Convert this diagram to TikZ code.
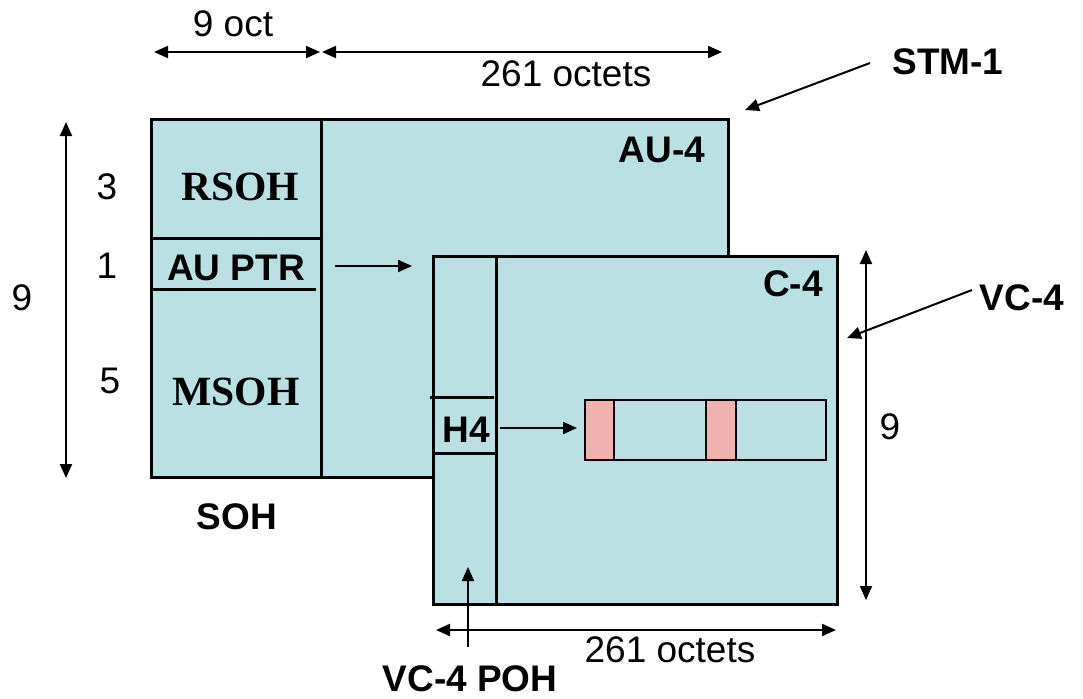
\documentclass[tikz,border=0pt]{standalone}
\usepackage{fontspec}
\setmainfont{Liberation Sans}
\newfontfamily\timesfont{Liberation Serif}
\usetikzlibrary{arrows.meta}

\definecolor{FrameCyan}{RGB}{186,224,227}
\definecolor{SlotPink}{RGB}{240,178,174}

\begin{document}
\begin{tikzpicture}[x=0.5pt, y=-0.5pt, >={Triangle[length=7pt,width=6pt]},
  lbl/.style={inner sep=0pt, font=\fontsize{18.5}{22}\selectfont},
  blbl/.style={inner sep=0pt, font=\fontsize{18.5}{22}\selectfont\bfseries},
  slbl/.style={inner sep=0pt, font=\fontsize{20.8}{24}\selectfont\timesfont\bfseries},
  frame/.style={draw, line width=1.5pt, fill=FrameCyan},
  dim/.style={<->, line width=1pt}]

\useasboundingbox (0,0) rectangle (1083,698);

% STM-1 frame
\draw[frame] (151,119) rectangle (728,477);
\draw[line width=1.5pt] (321,119) -- (321,477);
\draw[line width=1.5pt] (151,238) -- (321,238);
\draw[line width=1.5pt] (151,289) -- (316,289);

\node[slbl] (rsoh) at (240,187) {RSOH};
\node[blbl] (auptr) at (236,268) {AU PTR};
\node[slbl] (msoh) at (236,392) {MSOH};
\node[blbl] (au4) at (662,150) {AU-4};
\node[blbl] (soh) at (237,517) {SOH};

\coordinate (ptrtail) at (335,266);
\coordinate (ptrend) at (412,266);
\draw[->, line width=1pt] (ptrtail) -- (ptrend);

% VC-4 frame
\draw[frame] (433,256) rectangle (837,604);
\draw[line width=1.5pt] (496,256) -- (496,604);
\draw[line width=1.5pt] (430,397) -- (494,397);
\draw[line width=1.5pt] (433,453) -- (496,453);

\node[blbl] (h4) at (466,430) {H4};
\node[blbl] (c4) at (793,284) {C-4};

% payload row
\draw[line width=1pt] (585,400) rectangle (826,460);
\foreach \xa/\xb in {585/614, 706/736}
  \draw[line width=1pt, fill=SlotPink] (\xa,400) rectangle (\xb,460);

\coordinate (h4tail) at (500,428);
\coordinate (rowstart) at (577,428);
\draw[->, line width=1pt] (h4tail) -- (rowstart);

% dimensions
\coordinate (soha) at (154,52);
\coordinate (sohb) at (320,52);
\coordinate (aua) at (322,52);
\coordinate (aub) at (722,52);
\draw[dim] (soha) -- (sohb);
\draw[dim] (aua) -- (aub);
\node[lbl] (octnine) at (233,24) {9 oct};
\node[lbl] (octtop) at (566,74) {261 octets};

\coordinate (rowtop) at (66,122);
\coordinate (rowbot) at (66,478);
\draw[dim] (rowtop) -- (rowbot);
\node[lbl] (rowsnine) at (22,298) {9};
\node[lbl] (rowsthree) at (107,187) {3};
\node[lbl] (rowsone) at (107,266) {1};
\node[lbl] (rowsfive) at (110,381) {5};

\coordinate (vctop) at (866,250);
\coordinate (vcbot) at (866,600);
\draw[dim] (vctop) -- (vcbot);
\node[lbl] (vcnine) at (890,427) {9};

\coordinate (vcleft) at (436,630);
\coordinate (vcright) at (836,630);
\draw[dim] (vcleft) -- (vcright);
\node[lbl] (octbot) at (670,650) {261 octets};

% pointers
\node[blbl] (stm) at (948,62) {STM-1};
\coordinate (stmtip) at (745,110);
\draw[->, line width=1pt] (870,63) -- (stmtip);

\node[blbl] (vc4) at (1022,298) {VC-4};
\coordinate (vctip) at (847,338);
\draw[->, line width=1pt] (972,290) -- (vctip);

\node[blbl] (poh) at (470,679) {VC-4 POH};
\coordinate (pohtail) at (468,647);
\coordinate (pohtip) at (468,567);
\draw[->, line width=1pt] (pohtail) -- (pohtip);

\end{tikzpicture}
\end{document}
